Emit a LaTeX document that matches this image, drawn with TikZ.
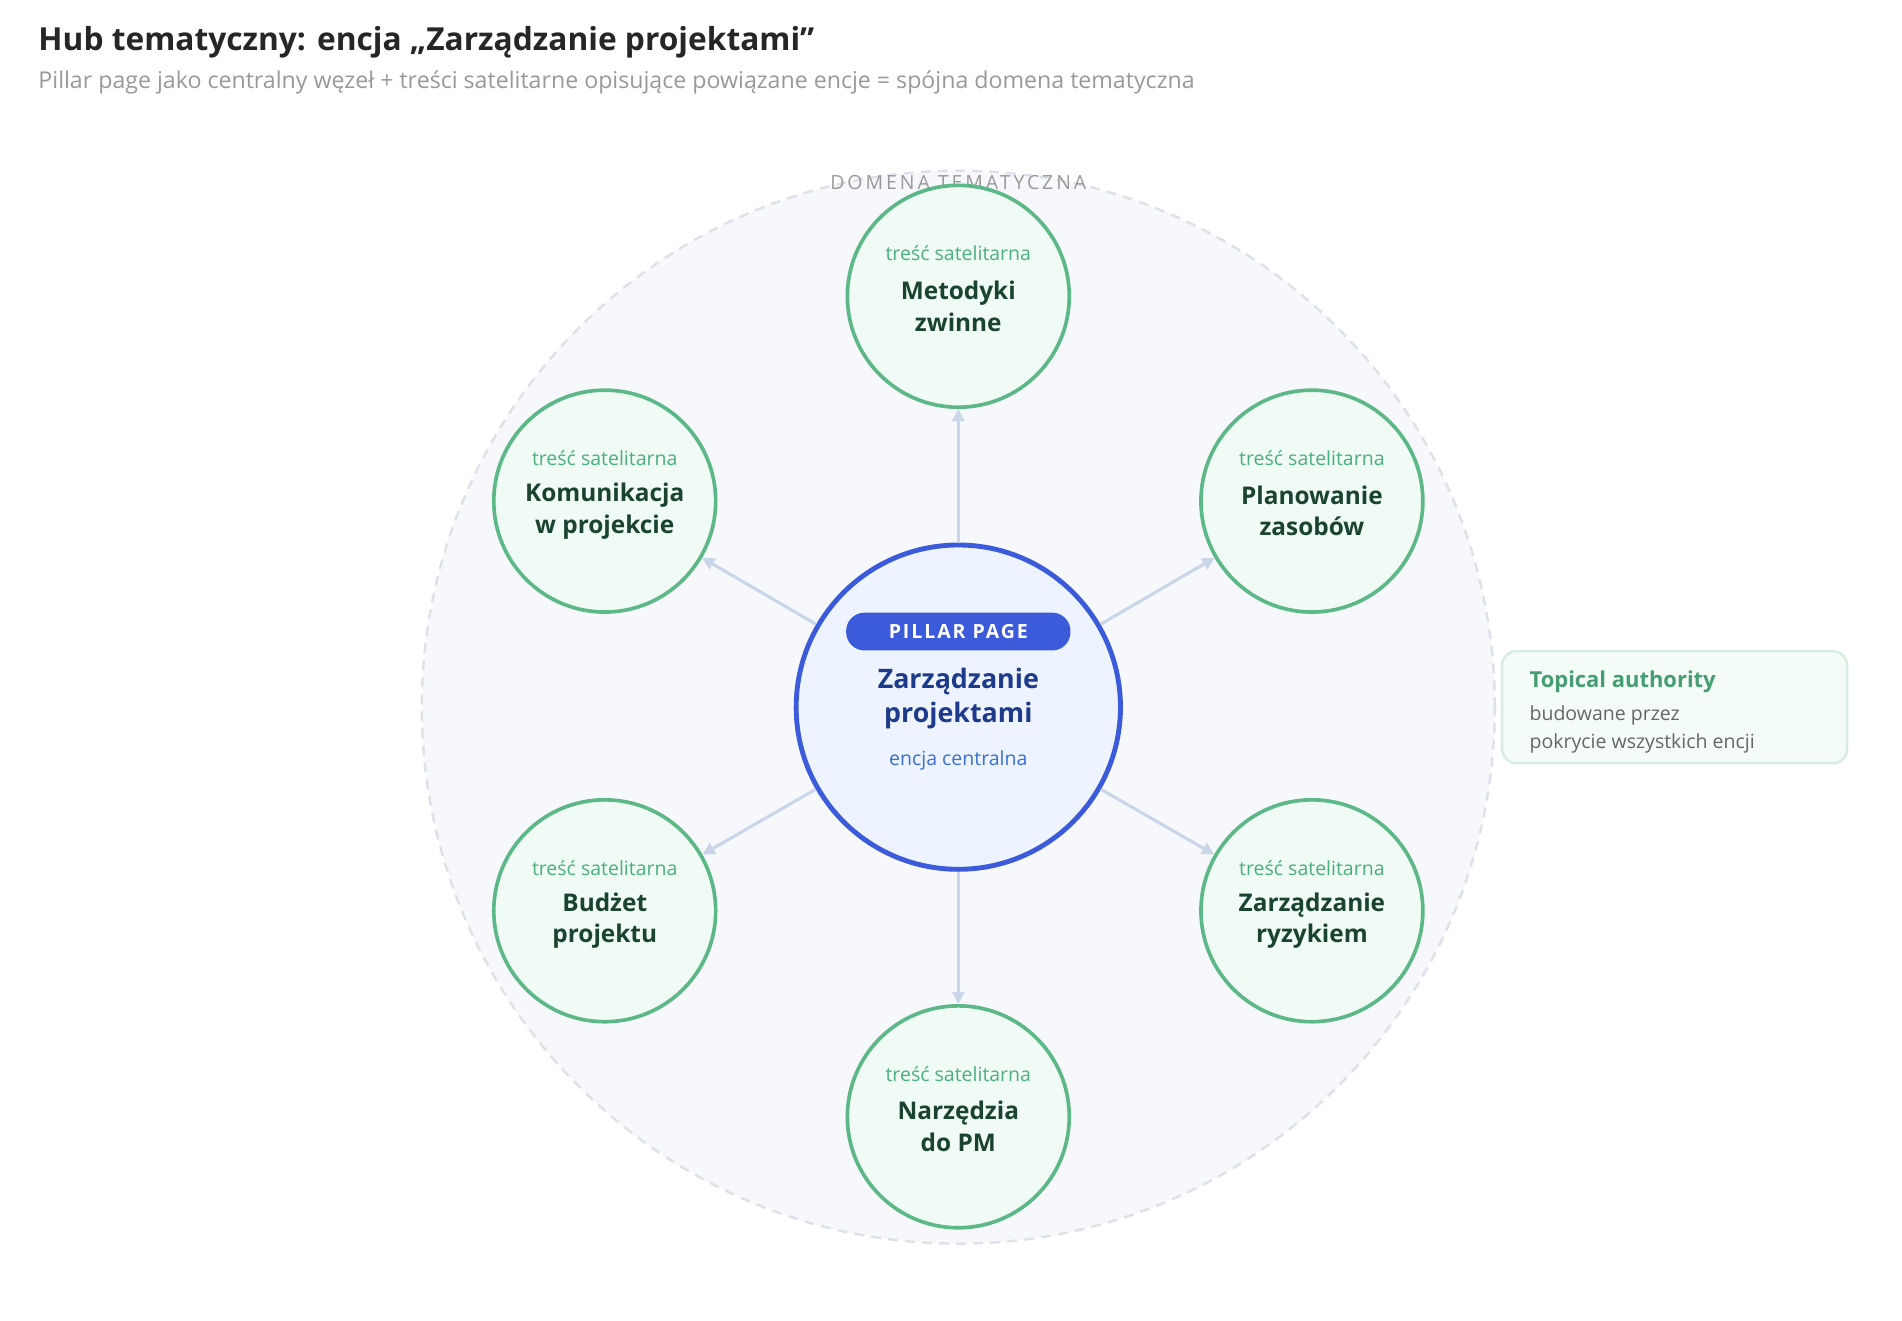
\documentclass[tikz,border=0pt]{standalone}
\usepackage{fontspec}
\setmainfont{Open Sans}
\usetikzlibrary{arrows.meta}
\definecolor{dom}{HTML}{F7F8FB}
\definecolor{domline}{HTML}{DDE1E8}
\definecolor{satfill}{HTML}{EFFBF4}
\definecolor{satline}{HTML}{5DB887}
\definecolor{sattext}{HTML}{1B4332}
\definecolor{satsub}{HTML}{4CAF7F}
\definecolor{pblue}{HTML}{3B5BDB}
\definecolor{pfill}{HTML}{EEF4FF}
\definecolor{pnavy}{HTML}{1E3A8A}
\definecolor{psub}{HTML}{3B6FD4}
\definecolor{conn}{HTML}{C9D5E8}
\begin{document}
\begin{tikzpicture}[x=1pt,y=-1pt,
  sat/.style={circle,minimum size=182pt,inner sep=0pt,draw=satline,line width=3pt,fill=satfill,align=center},
  conn/.style={draw=conn,line width=2.5pt,-{Triangle[length=10pt,width=10pt]}},
  st/.style={font=\fontsize{20}{26}\selectfont\bfseries,text=sattext},
]
\useasboundingbox[fill=white] (0,0) rectangle (1560,1083);
\node[anchor=west,font=\fontsize{26}{30}\selectfont\bfseries,text=black!85] (title) at (28,35) {Hub tematyczny: encja „Zarządzanie projektami"};
\node[anchor=west,font=\fontsize{19}{22}\selectfont,text=black!40] (subtitle) at (28,68) {Pillar page jako centralny węzeł + treści satelitarne opisujące powiązane encje = spójna domena tematyczna};
\node[circle,minimum size=880pt,fill=dom,draw=domline,dashed,line width=2pt,dash pattern=on 8pt off 6pt] (dom) at (786,580) {};
\node[font=\fontsize{16}{18}\selectfont\addfontfeatures{LetterSpace=15},text=black!40] (domlbl) at (786,150) {DOMENA TEMATYCZNA};
\node[circle,minimum size=266pt,inner sep=0pt,draw=pblue,line width=4pt,fill=pfill] (p) at (786,580) {};
\node[sat] (s1) at (786,243) {};
\node[sat] (s2) at (1076,411) {};
\node[sat] (s3) at (1076,747) {};
\node[sat] (s4) at (786,916) {};
\node[sat] (s5) at (496,747) {};
\node[sat] (s6) at (496,411) {};
\foreach \s in {s1,s2,s3,s4,s5,s6} \draw[conn] (p) -- (\s);
\node[fill=pblue,rounded corners=15pt,minimum width=184pt,minimum height=31pt,text=white,font=\fontsize{16}{18}\selectfont\bfseries\addfontfeatures{LetterSpace=10}] (badge) at (786,518) {PILLAR PAGE};
\node[align=center,text=pnavy,font=\fontsize{22}{28}\selectfont\bfseries] (pt) at (786,573) {Zarządzanie\\projektami};
\node[text=psub,font=\fontsize{16}{18}\selectfont] (ps) at (786,624) {encja centralna};
\foreach \s/\t in {s1/{Metodyki\\zwinne},s2/{Planowanie\\zasobów},s3/{Zarządzanie\\ryzykiem},s4/{Narzędzia\\do PM},s5/{Budżet\\projektu},s6/{Komunikacja\\w projekcie}}{
  \node[st,align=center] at ([yshift=-8pt]\s.center) {\t};
  \node[text=satsub,font=\fontsize{16}{18}\selectfont] at ([yshift=35pt]\s.center) {treść satelitarna};
}
\node[draw=satline!25,fill=satfill!70,line width=2pt,rounded corners=12pt,minimum width=283pt,minimum height=92pt] (box) at (1373.5,580) {};
\node[anchor=west,text=satsub!90!black,font=\fontsize{18}{20}\selectfont\bfseries] (bt) at (1251,559) {Topical authority};
\node[anchor=north west,align=left,text=black!60,font=\fontsize{16}{23}\selectfont] (bb) at (1251,575) {budowane przez\\pokrycie wszystkich encji};
\end{tikzpicture}
\end{document}
